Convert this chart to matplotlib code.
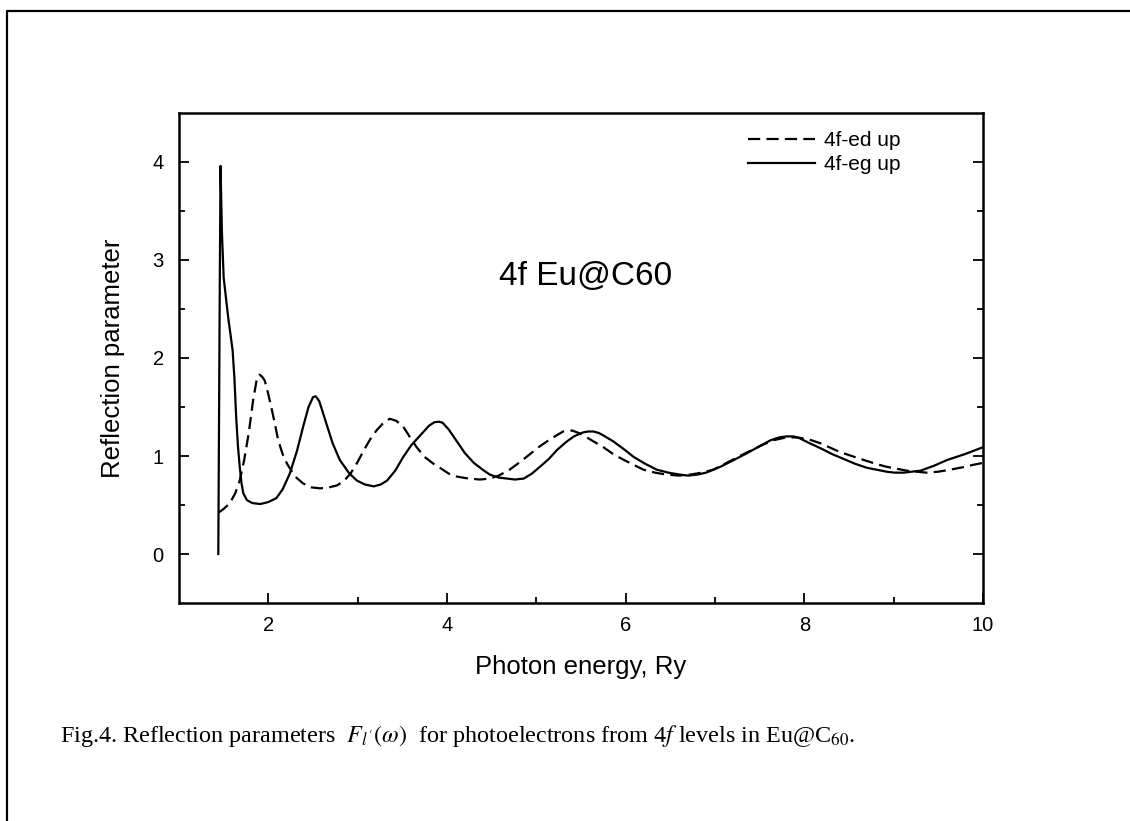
import matplotlib
matplotlib.use('Agg')
import matplotlib.pyplot as plt
from matplotlib.lines import Line2D

plt.rcParams['font.family'] = ['Liberation Sans', 'DejaVu Sans']
plt.rcParams['mathtext.fontset'] = 'stix'

# 4f-eg up (linha cheia)
energia_eg = [1.44, 1.455, 1.465, 1.48, 1.50, 1.55, 1.60, 1.62, 1.64, 1.66, 1.68, 1.70, 1.72, 1.76,
              1.82, 1.91, 2.00, 2.09, 2.16, 2.24, 2.32, 2.39, 2.45, 2.50, 2.53, 2.57, 2.65, 2.72,
              2.80, 2.90, 2.99, 3.08, 3.18, 3.26, 3.33, 3.42, 3.51, 3.60, 3.70, 3.80, 3.86, 3.91, 3.95,
              4.02, 4.11, 4.20, 4.30, 4.40, 4.48, 4.58, 4.67, 4.76, 4.86, 4.95, 5.04, 5.14, 5.23,
              5.33, 5.42, 5.52, 5.58, 5.64, 5.70, 5.75, 5.86, 5.98, 6.09, 6.22, 6.35, 6.48, 6.61, 6.70, 6.80,
              6.90, 6.98, 7.06, 7.17, 7.36, 7.50, 7.62, 7.72, 7.80, 7.88, 7.95, 8.06, 8.18, 8.31,
              8.44, 8.57, 8.70, 8.81, 8.92, 9.01, 9.11, 9.20, 9.30, 9.45, 9.60, 9.80, 10.0]
refl_eg = [0.00, 2.50, 3.96, 3.30, 2.82, 2.42, 2.08, 1.80, 1.40, 1.10, 0.89, 0.72, 0.62, 0.55,
           0.52, 0.51, 0.53, 0.57, 0.66, 0.82, 1.05, 1.30, 1.50, 1.60, 1.61, 1.56, 1.33, 1.13,
           0.96, 0.83, 0.75, 0.71, 0.69, 0.71, 0.75, 0.85, 0.99, 1.11, 1.21, 1.31, 1.345, 1.35, 1.34,
           1.27, 1.15, 1.03, 0.93, 0.86, 0.81, 0.78, 0.77, 0.76, 0.77, 0.82, 0.89, 0.97, 1.06,
           1.14, 1.20, 1.24, 1.25, 1.25, 1.235, 1.21, 1.15, 1.07, 0.99, 0.92, 0.86, 0.83, 0.81, 0.80, 0.81,
           0.83, 0.86, 0.89, 0.94, 1.03, 1.10, 1.16, 1.19, 1.20, 1.20, 1.18, 1.13, 1.08, 1.02,
           0.97, 0.92, 0.88, 0.86, 0.84, 0.83, 0.83, 0.84, 0.85, 0.90, 0.96, 1.02, 1.09]

# 4f-ed up (tracejada)
energia_ed = [1.44, 1.50, 1.57, 1.63, 1.68, 1.73, 1.78, 1.83, 1.87, 1.90, 1.93, 1.96, 2.00, 2.04,
              2.08, 2.11, 2.16, 2.21, 2.30, 2.39, 2.48, 2.58, 2.68, 2.77, 2.85, 2.92, 3.00, 3.07,
              3.14, 3.21, 3.29, 3.36, 3.43, 3.51, 3.58, 3.66, 3.75, 3.85, 3.92, 4.02, 4.11, 4.24,
              4.37, 4.48, 4.58, 4.70, 4.82, 4.93, 5.04, 5.17, 5.30, 5.40, 5.49, 5.62, 5.75, 5.86,
              5.98, 6.09, 6.20, 6.33, 6.46, 6.60, 6.72, 6.85, 6.98, 7.13, 7.30, 7.50, 7.65, 7.80,
              7.92, 8.05, 8.18, 8.40, 8.63, 8.80, 8.92, 9.15, 9.37, 9.50, 9.63, 9.80, 9.89, 10.0]
refl_ed = [0.42, 0.46, 0.52, 0.62, 0.75, 0.96, 1.23, 1.57, 1.78, 1.83, 1.81, 1.77, 1.63, 1.47,
           1.30, 1.16, 1.02, 0.92, 0.79, 0.72, 0.68, 0.67, 0.68, 0.70, 0.75, 0.82, 0.94, 1.06,
           1.17, 1.26, 1.34, 1.38, 1.36, 1.30, 1.20, 1.09, 0.99, 0.92, 0.88, 0.82, 0.79, 0.77,
           0.76, 0.77, 0.80, 0.86, 0.94, 1.02, 1.10, 1.18, 1.25, 1.26, 1.23, 1.16, 1.09, 1.02,
           0.96, 0.91, 0.86, 0.83, 0.81, 0.80, 0.81, 0.83, 0.86, 0.93, 1.01, 1.10, 1.16, 1.19,
           1.19, 1.17, 1.13, 1.04, 0.97, 0.92, 0.89, 0.85, 0.83, 0.84, 0.86, 0.89, 0.91, 0.93]

ticks_x = [2, 4, 6, 8, 10]
ticks_y = [0, 1, 2, 3, 4]

fig = plt.figure(figsize=(11.3, 8.21), dpi=100)
ax = fig.add_axes([0.1584, 0.2655, 0.7115, 0.5969])

ax.plot(energia_ed, refl_ed, color='black', lw=1.6, dashes=(5.5, 2.8), label='4f-ed up')
ax.plot(energia_eg, refl_eg, color='black', lw=1.6, label='4f-eg up')

ax.set_xlim(1, 10)
ax.set_ylim(-0.5, 4.5)
ax.set_xticks(ticks_x)
ax.set_yticks(ticks_y)
ax.set_xticks([3, 5, 7, 9], minor=True)
ax.set_yticks([0.5, 1.5, 2.5, 3.5], minor=True)
ax.tick_params(which='both', direction='in', width=1.3, labelsize=14.5)
ax.tick_params(axis='y', which='both', right=True)
ax.tick_params(which='major', length=7.5)
ax.tick_params(which='minor', length=4)
ax.tick_params(axis='x', pad=9)
ax.tick_params(axis='y', pad=11)
for s in ax.spines.values():
    s.set_linewidth(1.8)

ax.set_xlabel('Photon energy, Ry', fontsize=18.5, labelpad=15)
ax.set_ylabel('Reflection parameter', fontsize=18.5, labelpad=20)
ax.text(5.55, 2.83, '4f Eu@C60', fontsize=24, ha='center', va='center')

ax.legend(loc='upper left', bbox_to_anchor=(0.708, 0.963), frameon=False, fontsize=15,
          handlelength=3.2, handletextpad=0.45, labelspacing=0.25, borderpad=0, borderaxespad=0)

fig.text(0.053, 1 - 736 / 821,
         r'Fig.4. Reflection parameters  $F_{l^{\prime}}(\omega)$  for photoelectrons from 4$f$ levels in Eu@C$_{60}$.',
         family='Liberation Serif', fontsize=17.4, va='center', ha='left')

# moldura da figura (apenas esquerda e topo)
fig.add_artist(Line2D([0.0065, 0.0065, 1.0], [0.0, 0.987, 0.987],
                      transform=fig.transFigure, color='black', lw=1.6))

fig.savefig('out.png', dpi=100)
